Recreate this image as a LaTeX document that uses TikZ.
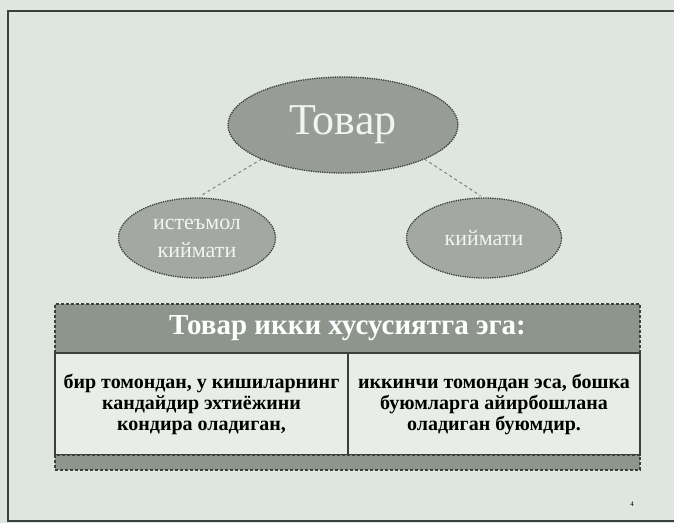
\documentclass[tikz,border=0pt]{standalone}
\usepackage{fontspec}
\setmainfont{Liberation Serif}
\usetikzlibrary{shapes.geometric,positioning}

% Colours of the scanned slide
\definecolor{slidebg}{HTML}{DFE6DF}
\definecolor{ovalgray}{HTML}{A3A9A2}
\definecolor{ovaldark}{HTML}{979D96}
\definecolor{ovaledge}{HTML}{3C403B}
\definecolor{ovaltext}{HTML}{F2F4F1}
\definecolor{headgray}{HTML}{8E958D}
\definecolor{cellfill}{HTML}{E8EDE7}
\definecolor{linkgray}{HTML}{7D827C}

\begin{document}
\begin{tikzpicture}[x=1pt,y=-1pt,
    bubble/.style={ellipse, fill=ovalgray, draw=ovaledge, densely dotted,
        line width=1.3pt, inner sep=0pt, outer sep=0pt, text=ovaltext, align=center},
    link/.style={draw=linkgray, line width=1pt, dash pattern=on 3pt off 3pt},
    headbar/.style={rectangle, fill=headgray, draw=ovaledge, densely dashed,
        line width=1.2pt, inner sep=0pt, outer sep=0pt, text=white},
    cellbox/.style={rectangle, fill=cellfill, draw=ovaledge, line width=1.1pt,
        inner sep=0pt, outer sep=0pt, align=center, text=black,
        font=\fontsize{20}{21}\selectfont\bfseries}]

    % Page of the slide
    \fill[slidebg] (0,0) rectangle (674,523);
    \useasboundingbox (0,0) rectangle (674,523);

    % Frame of the slide (its right side lies outside the scan)
    \draw[line width=1.4pt, ovaledge] (674,11) -- (8,11) -- (8,521) -- (674,521);

    % The three ellipses
    \node[bubble, fill=ovaldark, minimum width=230pt, minimum height=96pt,
        font=\fontsize{44}{44}\selectfont] (tovar) at (343,125) {Товар};
    \node[bubble, minimum width=157pt, minimum height=80pt,
        font=\fontsize{22}{28}\selectfont] (istemol) at (197,238) {истеъмол\\киймати};
    \node[bubble, minimum width=155pt, minimum height=80pt,
        font=\fontsize{22}{28}\selectfont] (qiymat) at (484,238) {киймати};

    % Dashed links from the top ellipse (they stop short of the lower ellipses)
    \draw[link, shorten >=4pt] (tovar.south west) -- (istemol.north);
    \draw[link, shorten >=4pt] (tovar.south east) -- (qiymat.north);

    % Table: header, two cells and a bottom bar
    \node[headbar, minimum width=585pt, minimum height=49pt, anchor=north west,
        font=\fontsize{29}{29}\selectfont\bfseries] (head) at (55,304) {Товар икки хусусиятга эга:};
    \node[cellbox, minimum width=293pt, minimum height=102pt, anchor=north west] (leftcell) at (head.south west)
        {бир томондан, у кишиларнинг\\кандайдир эхтиёжини\\кондира оладиган,};
    \node[cellbox, minimum width=292pt, minimum height=102pt, anchor=north west] (rightcell) at (leftcell.north east)
        {иккинчи томондан эса, бошка\\буюмларга айирбошлана\\оладиган буюмдир.};
    \node[headbar, minimum width=585pt, minimum height=15pt, anchor=north west] (footbar) at (leftcell.south west) {};

    % Page number
    \node[font=\fontsize{7}{7}\selectfont] (pagenum) at (632,504) {4};

\end{tikzpicture}
\end{document}
